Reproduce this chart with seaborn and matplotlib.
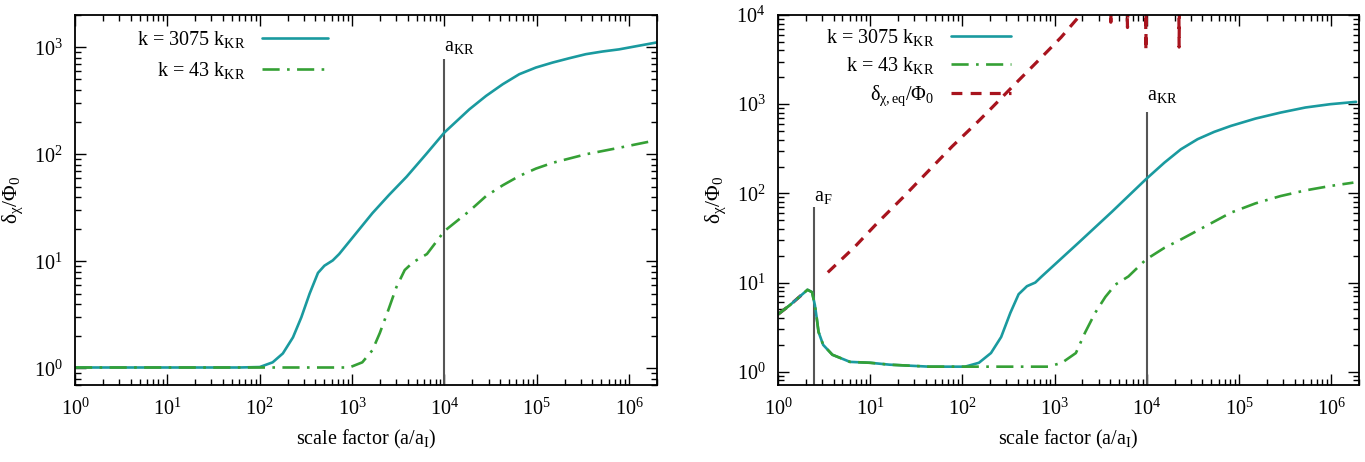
import numpy as np
import pandas as pd
import matplotlib
matplotlib.use("Agg")
import matplotlib.pyplot as plt
import seaborn as sns
from matplotlib.lines import Line2D
from matplotlib.ticker import LogLocator, NullFormatter, FixedLocator

# ---------------- data ----------------
x_ticks = [1e0, 1e1, 1e2, 1e3, 1e4, 1e5, 1e6]
y_ticks_left = [1e0, 1e1, 1e2, 1e3]
y_ticks_right = [1e0, 1e1, 1e2, 1e3, 1e4]

# Left panel
left_x = [1, 60, 100, 138, 178, 229, 282, 347, 427, 501, 617, 724, 1660, 2510, 3890, 6310,
          10000, 18600, 28200, 42700, 64600, 97700, 148000, 224000, 339000, 513000,
          776000, 1970000]
left_k3075 = [1.02, 1.02, 1.03, 1.14, 1.38, 1.95, 3.0, 5.0, 7.8, 9.1, 10.2, 11.7, 28.2, 41.7,
              61.7, 100, 160, 263, 351, 451, 560, 646, 719, 789, 861, 912, 955, 1107]
left_x43 = [1, 100, 933, 1290, 1660, 1995, 2455, 3020, 3715, 4570, 6460,
            10000, 18600, 28200, 42700, 64600, 97700, 148000, 224000, 339000, 776000,
            1780000]
left_k43 = [1.02, 1.02, 1.02, 1.14, 1.48, 2.14, 3.47, 5.75, 8.3, 9.8, 11.7,
            19.2, 29.5, 40.7, 51.3, 62.7, 73.5, 83.2, 91.2, 100, 115, 133]

# Right panel
right_x = [1, 1.35, 2.09, 2.34, 2.51, 2.63, 2.75, 3.09, 3.89, 6.03, 10, 16.2, 43.7, 107,
           151, 204, 263, 331, 407, 501, 617, 724, 1820, 4170, 9770, 15500, 23400,
           35500, 53700, 81300, 151000, 282000, 525000, 977000, 1860000]
right_k3075 = [4.4, 5.6, 8.3, 7.8, 5.6, 4.0, 2.8, 2.0, 1.55, 1.29, 1.26, 1.20, 1.14, 1.14,
               1.26, 1.62, 2.45, 4.57, 7.4, 9.1, 10.0, 11.7, 28, 62, 144, 221, 312,
               405, 489, 570, 690, 805, 918, 1000, 1062]
right_x43 = [1, 1.35, 2.09, 2.34, 2.51, 2.63, 2.75, 3.09, 3.89, 6.03, 10, 16.2, 43.7, 107,
             851, 1200, 1700, 2140, 2750, 3550, 4570, 6310, 9770, 15500, 23400, 43700,
             81300, 151000, 282000, 525000, 977000, 1740000]
right_k43 = [4.4, 5.6, 8.3, 7.8, 5.6, 4.0, 2.8, 2.0, 1.55, 1.29, 1.26, 1.20, 1.14, 1.14,
             1.14, 1.26, 1.62, 2.75, 4.57, 6.9, 9.5, 11.7, 18.1, 24.5, 30.4, 43,
             60.7, 77.3, 93.3, 108, 121, 132]
# equilibrium value: early branch (before a_F) and late branch
eq_x_early = [1, 1.35, 2.09]
eq_y_early = [4.4, 5.6, 8.3]
eq_x_late = [3.47, 6.76, 12, 22.4, 40.7, 77.6, 151, 209, 380, 708, 1175,
             1740, 2340, 3950, 4070, 4190, 6000, 6170, 6340, 9650, 9770, 9890,
             22100, 22400, 22700, 2000000]
eq_y_late = [13, 25, 46.8, 89, 169, 337, 653, 915, 1720, 3290, 5620,
             9000, 13000, 30000, 8300, 30000, 30000, 7240, 30000, 30000, 3980, 30000,
             30000, 4370, 30000, 100000]

a_KR = 1e4
a_F = 2.45
aKR_top_left = 780
aKR_top_right = 813
aF_top = 70

labels = ["k = 3075 k$_{\\mathrm{KR}}$", "k = 43 k$_{\\mathrm{KR}}$",
          "δ$_{\\mathrm{χ,eq}}$/Φ$_0$"]
xlabel = "scale factor (a/a$_{\\mathrm{I}}$)"
ylabel = "δ$_{\\mathrm{χ}}$/Φ$_0$"

# ---------------- style ----------------
sns.set_theme(style="ticks")
plt.rcParams["font.family"] = ["Liberation Serif", "DejaVu Serif"]
plt.rcParams.update({
    "mathtext.fontset": "custom",
    "mathtext.rm": "Liberation Serif",
    "mathtext.it": "Liberation Serif:italic",
    "mathtext.bf": "Liberation Serif:bold",
    "axes.edgecolor": "black",
    "axes.linewidth": 1.3,
    "text.color": "black",
    "axes.labelcolor": "black",
    "xtick.color": "black",
    "ytick.color": "black",
})

C_CYAN = "#1a9a9f"
C_GREEN = "#35a035"
C_RED = "#a8141e"
C_VL = "#555555"
FS = 14.5
DASHDOT = (0, (6.5, 2.8, 1.0, 2.8))
DASHED = (0, (3.4, 2.6))

W, H = 13.65, 4.62
fig = plt.figure(figsize=(W, H), dpi=100)
axL = fig.add_axes([75 / 1365, 77 / 462, (657 - 75) / 1365, (385 - 15) / 462])
axR = fig.add_axes([778 / 1365, 77 / 462, (1359 - 778) / 1365, (385 - 15) / 462])


def style_axis(ax, yticks):
    ax.set_xscale("log")
    ax.set_yscale("log")
    ax.xaxis.set_major_locator(FixedLocator(x_ticks))
    ax.xaxis.set_minor_locator(LogLocator(base=10, subs=np.arange(2, 10), numticks=50))
    ax.yaxis.set_major_locator(FixedLocator(yticks))
    ax.yaxis.set_minor_locator(LogLocator(base=10, subs=np.arange(2, 10), numticks=50))
    ax.xaxis.set_minor_formatter(NullFormatter())
    ax.yaxis.set_minor_formatter(NullFormatter())
    ax.tick_params(which="both", direction="in", top=True, right=True, width=1.0,
                   labelsize=FS)
    ax.tick_params(which="major", length=8)
    ax.tick_params(which="minor", length=4)
    ax.tick_params(axis="x", which="major", pad=10)
    ax.tick_params(axis="y", which="major", pad=9)
    ax.set_xlabel(xlabel, fontsize=FS, labelpad=6)
    ax.set_ylabel(ylabel, fontsize=FS + 1, labelpad=6)


# ---------------- left panel ----------------
sns.lineplot(x=left_x, y=left_k3075, ax=axL, color=C_CYAN, lw=1.9, sort=False)
sns.lineplot(x=left_x43, y=left_k43, ax=axL, color=C_GREEN, lw=1.9, sort=False,
             linestyle=DASHDOT)
axL.vlines(a_KR, 0.7, aKR_top_left, color=C_VL, lw=1.5, zorder=1)
axL.text(a_KR, 930, "a$_{\\mathrm{KR}}$", fontsize=FS, ha="left", va="baseline")
style_axis(axL, y_ticks_left)
axL.set_xlim(1, 2e6)
axL.set_ylim(0.7, 2000)
hL = [Line2D([], [], color=C_CYAN, lw=1.9),
      Line2D([], [], color=C_GREEN, lw=1.9, linestyle=DASHDOT)]
axL.legend(hL, labels[:2], loc="upper left", bbox_to_anchor=(0.082, 1.0),
           frameon=False, markerfirst=False, fontsize=FS, handlelength=3.3,
           handletextpad=0.8, labelspacing=0.5, borderaxespad=0.3)

# ---------------- right panel ----------------
sns.lineplot(x=eq_x_early, y=eq_y_early, ax=axR, color=C_RED, lw=2.3, sort=False,
             linestyle=DASHED)
sns.lineplot(x=eq_x_late, y=eq_y_late, ax=axR, color=C_RED, lw=2.3, sort=False,
             linestyle=DASHED)
sns.lineplot(x=right_x, y=right_k3075, ax=axR, color=C_CYAN, lw=1.9, sort=False)
sns.lineplot(x=right_x43, y=right_k43, ax=axR, color=C_GREEN, lw=1.9, sort=False,
             linestyle=DASHDOT)
axR.vlines(a_KR, 0.71, aKR_top_right, color=C_VL, lw=1.5, zorder=1)
axR.vlines(a_F, 0.71, aF_top, color=C_VL, lw=1.5, zorder=1)
axR.text(a_KR, 1100, "a$_{\\mathrm{KR}}$", fontsize=FS, ha="left", va="baseline")
axR.text(a_F, 82, "a$_{\\mathrm{F}}$", fontsize=FS, ha="left", va="baseline")
style_axis(axR, y_ticks_right)
axR.set_xlim(1, 2e6)
axR.set_ylim(0.71, 1e4)
hR = [Line2D([], [], color=C_CYAN, lw=1.9),
      Line2D([], [], color=C_GREEN, lw=1.9, linestyle=DASHDOT),
      Line2D([], [], color=C_RED, lw=2.3, linestyle=DASHED)]
axR.legend(hR, labels, loc="upper left", bbox_to_anchor=(0.058, 1.005),
           frameon=False, markerfirst=False, fontsize=FS, handlelength=3.0,
           handletextpad=0.8, labelspacing=0.35, borderaxespad=0.3)

fig.savefig("out.png", dpi=100)
